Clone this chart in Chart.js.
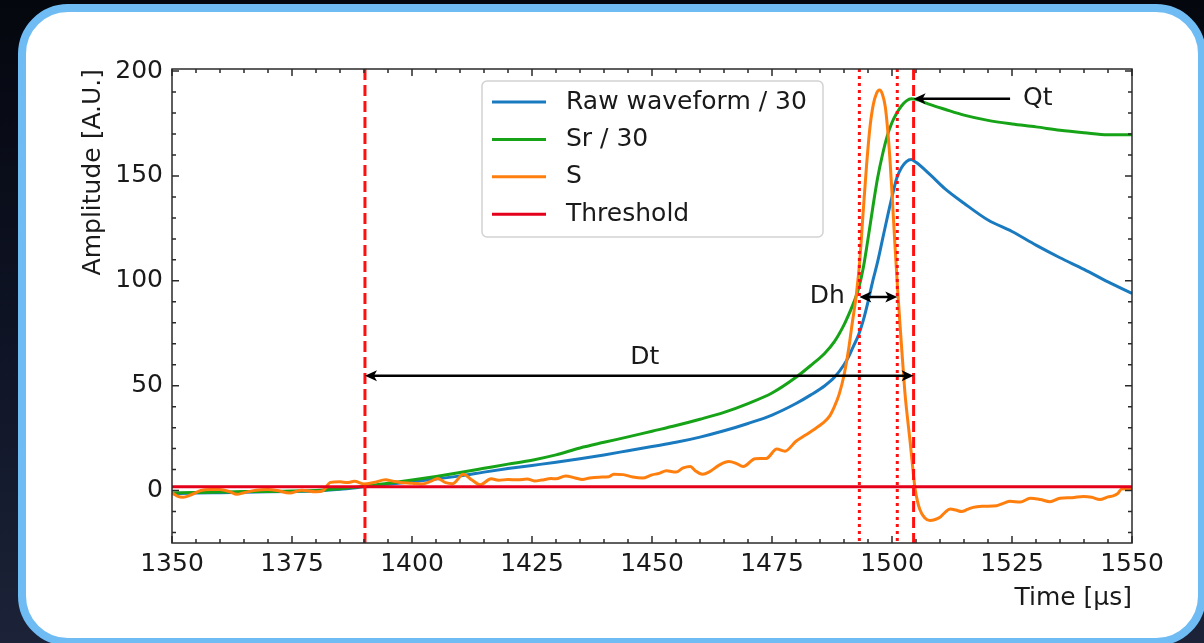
<!DOCTYPE html>
<html>
<head>
<meta charset="utf-8">
<script src="https://cdn.jsdelivr.net/npm/chart.js@4.4.1/dist/chart.umd.min.js"></script>
<style>
  html, body { margin:0; padding:0; width:1204px; height:643px; overflow:hidden;
    background: linear-gradient(to bottom, #05070e 0%, #0e1324 50%, #1c2338 100%); }
  #card { position:absolute; left:18px; top:4px; width:1188px; height:642px; box-sizing:border-box;
    border:8px solid #6fbcf5; border-radius:50px; background:#ffffff; }
  #c { position:absolute; left:0; top:0; }
</style>
</head>
<body>
<div id="card"></div>
<canvas id="c" width="1204" height="643"></canvas>
<script>
// ---------------- data ----------------
const rawTime = [1350,1355,1360,1365,1370,1375,1380,1385,1390,1395,1400,1405,1410,1415,1420,1425,1430,1435,1440,1445,1450,1455,1460,1465,1470,1475,1480,1483,1486,1488,1490,1491,1492,1493,1494,1495,1496,1497,1498,1499,1500,1501,1502,1503,1504,1505,1508,1511,1515,1520,1525,1530,1535,1540,1545,1550];
const rawValues = [-1.5,-1.2,-1,-0.8,-0.6,-0.4,-0.2,0.6,1.8,3,4.2,5.5,7,8.8,10.5,12,13.5,15.2,17,19,21,23,25.5,28.5,32,36,41.5,45.5,50,54,60,64,69,74,81,90,100,109,119.5,130,140,149,154,156.8,157.8,156.5,150.5,144,137,129,123.5,117,111,105.5,99.5,94];

const srTime = [1350,1355,1360,1365,1370,1375,1380,1385,1390,1395,1400,1405,1410,1415,1420,1425,1430,1435,1440,1445,1450,1455,1460,1465,1470,1475,1480,1483,1486,1488,1490,1491,1492,1493,1494,1495,1496,1497,1498,1499,1500,1501,1502,1503,1504,1505,1508,1511,1515,1520,1525,1530,1535,1540,1545,1550];
const srValues = [-1.2,-0.9,-0.7,-0.5,-0.4,-0.2,0,0.9,2,3.5,5,6.7,8.6,10.6,12.6,14.5,17,20.3,23,25.6,28.3,31,34,37.3,41.5,46.5,54,59.5,65.5,71,79,84,89.5,96,106,120,135,149,160,169,175.5,180,183.5,185.8,186.8,186.5,184,181.8,179,176.5,174.8,173.4,171.8,170.6,169.6,169.6];

const sTime = [1350,1351,1352.3,1354,1356,1358,1360,1362,1363.5,1365,1367.5,1370,1372,1374.5,1377,1380,1381.5,1383,1385,1386.5,1388,1390,1392,1394.5,1396,1397.5,1400,1402,1404,1405.3,1407,1408.5,1410.7,1412.5,1414.2,1416.5,1418,1420,1422,1424,1425.5,1427,1429,1430,1432,1434,1435.5,1437,1439,1441,1442,1444,1446,1448,1450,1451.5,1453,1455,1456.5,1458,1459,1460.5,1462,1464,1466,1467.5,1469,1471.5,1473.8,1476,1477.7,1480,1482,1484,1485.5,1487,1488,1489,1490,1491,1491.6,1492.6,1493.3,1494,1494.7,1495.4,1496.1,1496.8,1497.4,1498,1498.6,1499.1,1499.6,1500.1,1500.6,1501.2,1501.7,1502.2,1502.7,1503.3,1503.8,1504.4,1504.8,1505.3,1505.8,1506.8,1507.9,1509,1510,1511,1512.1,1513.3,1514.5,1515.7,1516.9,1519,1521.8,1523.3,1524.6,1526.7,1528.8,1530.9,1532.9,1535,1537.5,1539.9,1541.6,1543.3,1545,1546.1,1547,1547.8,1549,1550];
const sValues = [-1,-2.5,-3.2,-2,0,0.5,0.5,-0.5,-1.8,-1,0.2,0.5,0,-1.2,0.2,-0.6,0,3.9,4.2,3.8,4.4,3.1,3.8,5.1,4.5,3.9,3.5,3.1,4.5,5.8,3.8,3.3,7.8,5,2.8,5.6,4.9,5.3,5.1,5.5,4.6,5,5.7,5.6,7,6,5.3,6,6.4,6.6,7.8,7.6,6.5,6,7.5,8.2,9.4,8.8,10.8,11.5,9.5,7.8,9,12.1,13.8,13,11.5,15.2,15.3,19.8,18.8,23.5,26.5,29.5,32,35.5,40,46,55,68,78,94,110,133,155,173,184,189.5,191,189,183,172,157,138,117.6,95,78,62,46.5,33,22.8,9,1,-5,-9,-13,-14.3,-13.8,-12.7,-10.5,-8.8,-9.3,-10,-9,-8,-7.5,-7.2,-6,-5.1,-5.5,-3.7,-4.3,-5.3,-3.7,-3.4,-2.8,-3.2,-4.3,-3,-2.5,-1.5,0.7,0.9,0.3];

const thresholdTime = [1350, 1550];
const thresholdValues = [1.8, 1.8];

const seriesLabels = ['Raw waveform / 30', 'Sr / 30', 'S', 'Threshold'];
const seriesColors = ['#1a7ac0', '#17a317', '#ff7f0e', '#e4001b'];

const xTicks = [1350,1375,1400,1425,1450,1475,1500,1525,1550];
const yTicks = [0,50,100,150,200];

// annotation markers (data units)
const dashedTimes = [1390.2, 1504.5];
const dottedTimes = [1493.2, 1501.1];
const dtArrow = [1390.2, 1504.5, 54.7];   // x1, x2, y
const dhArrow = [1493.2, 1501.1, 92.3];
const qtArrow = [1524.6, 1504.5, 186.8];  // from, to, y
const labelTexts = ['Dt', 'Dh', 'Qt'];
const labelPos = [[1448.5, 63.3], [1490.2, 92.3], [1527.3, 186.8]];

// ---------------- chart ----------------
const FONT = '"DejaVu Sans", sans-serif';
const pts = (xs, ys) => xs.map((x, i) => ({x, y: ys[i]}));

function drawHead(ctx, tipX, tipY, dir) {
  const L = 12, W = 5.5;
  ctx.beginPath();
  ctx.moveTo(tipX, tipY);
  ctx.lineTo(tipX - dir * L, tipY - W);
  ctx.lineTo(tipX - dir * L * 0.75, tipY);
  ctx.lineTo(tipX - dir * L, tipY + W);
  ctx.closePath();
  ctx.fill();
}
function arrow(ctx, x1, x2, y, both) {
  ctx.beginPath();
  const d = x2 > x1 ? 1 : -1;
  ctx.moveTo(both ? x1 + d * 6 : x1, y);
  ctx.lineTo(x2 - d * 6, y);
  ctx.stroke();
  drawHead(ctx, x2, y, d);
  if (both) drawHead(ctx, x1, y, -d);
}

const annotPlugin = {
  id: 'annot',
  afterDatasetsDraw(chart) {
    const {ctx, chartArea: a, scales: {x, y}} = chart;
    ctx.save();
    ctx.beginPath(); ctx.rect(a.left, a.top, a.right - a.left, a.bottom - a.top); ctx.clip();
    ctx.strokeStyle = '#ff1010'; ctx.lineWidth = 3;
    ctx.setLineDash([11, 5]);
    dashedTimes.forEach(t => { const p = x.getPixelForValue(t); ctx.beginPath(); ctx.moveTo(p, a.top); ctx.lineTo(p, a.bottom); ctx.stroke(); });
    ctx.setLineDash([3, 4]);
    dottedTimes.forEach(t => { const p = x.getPixelForValue(t); ctx.beginPath(); ctx.moveTo(p, a.top); ctx.lineTo(p, a.bottom); ctx.stroke(); });
    ctx.setLineDash([]);
    ctx.strokeStyle = '#000'; ctx.fillStyle = '#000'; ctx.lineWidth = 2.5;
    arrow(ctx, x.getPixelForValue(dtArrow[0]), x.getPixelForValue(dtArrow[1]), y.getPixelForValue(dtArrow[2]), true);
    arrow(ctx, x.getPixelForValue(dhArrow[0]), x.getPixelForValue(dhArrow[1]), y.getPixelForValue(dhArrow[2]), true);
    arrow(ctx, x.getPixelForValue(qtArrow[0]), x.getPixelForValue(qtArrow[1]), y.getPixelForValue(qtArrow[2]), false);
    ctx.restore();
    ctx.save();
    ctx.font = '25px ' + FONT; ctx.fillStyle = '#1a1a1a'; ctx.textBaseline = 'middle';
    const aligns = ['center', 'right', 'left'];
    labelTexts.forEach((t, i) => {
      ctx.textAlign = aligns[i];
      ctx.fillText(t, x.getPixelForValue(labelPos[i][0]), y.getPixelForValue(labelPos[i][1]));
    });
    ctx.restore();
  },
  afterDraw(chart) {
    const {ctx, chartArea: a, scales: {x, y}} = chart;
    ctx.save();
    ctx.strokeStyle = '#2a2a2a'; ctx.lineWidth = 1.5;
    for (let v = 1350; v <= 1550; v += 5) {
      const p = x.getPixelForValue(v);
      const len = (v % 25 === 0) ? 7 : 4;
      ctx.beginPath(); ctx.moveTo(p, a.bottom); ctx.lineTo(p, a.bottom - len);
      ctx.moveTo(p, a.top); ctx.lineTo(p, a.top + len); ctx.stroke();
    }
    for (let v = -20; v <= 200; v += 10) {
      const p = y.getPixelForValue(v);
      const len = (v % 50 === 0) ? 7 : 4;
      ctx.beginPath(); ctx.moveTo(a.left, p); ctx.lineTo(a.left + len, p);
      ctx.moveTo(a.right, p); ctx.lineTo(a.right - len, p); ctx.stroke();
    }
    ctx.strokeRect(a.left, a.top, a.right - a.left, a.bottom - a.top);
    // legend
    const bx = 482, by = 81, bw = 341, bh = 156;
    ctx.beginPath(); ctx.roundRect(bx, by, bw, bh, 5);
    ctx.fillStyle = 'rgba(255,255,255,0.85)'; ctx.fill();
    ctx.strokeStyle = '#d2d2d2'; ctx.lineWidth = 1.5; ctx.stroke();
    ctx.font = '25px ' + FONT; ctx.textBaseline = 'middle'; ctx.textAlign = 'left';
    chart.data.datasets.forEach((ds, i) => {
      const ry = 102 + i * 37.4;
      ctx.strokeStyle = ds.borderColor; ctx.lineWidth = 3;
      ctx.beginPath(); ctx.moveTo(492, ry); ctx.lineTo(546, ry); ctx.stroke();
      ctx.fillStyle = '#1a1a1a';
      ctx.fillText(ds.label, 566, ry);
    });
    ctx.restore();
  }
};

const sets = [pts(rawTime, rawValues), pts(srTime, srValues), pts(sTime, sValues), pts(thresholdTime, thresholdValues)];
const orders = [4, 3, 2, 1];

new Chart(document.getElementById('c'), {
  type: 'line',
  data: {
    datasets: sets.map((d, i) => ({
      label: seriesLabels[i], data: d, borderColor: seriesColors[i], backgroundColor: seriesColors[i],
      borderWidth: 3, pointRadius: 0, cubicInterpolationMode: 'monotone', fill: false, order: orders[i]
    }))
  },
  options: {
    responsive: false, animation: false, devicePixelRatio: 1,
    layout: { padding: { left: 0, top: 69, right: 72, bottom: 28 } },
    plugins: { legend: { display: false }, tooltip: { enabled: false } },
    scales: {
      x: {
        type: 'linear', min: 1350, max: 1550,
        afterBuildTicks: s => { s.ticks = xTicks.map(v => ({value: v})); },
        afterFit: s => { s.height = 72; },
        grid: { display: false, drawTicks: false }, border: { display: false },
        ticks: { font: { family: FONT, size: 25 }, color: '#1a1a1a', padding: 6, maxRotation: 0, callback: v => String(v) },
        title: { display: true, text: 'Time [μs]', align: 'end', font: { family: FONT, size: 25 }, color: '#1a1a1a', padding: { top: 0, bottom: 2 } }
      },
      y: {
        type: 'linear', min: -25, max: 201,
        afterBuildTicks: s => { s.ticks = yTicks.map(v => ({value: v})); },
        afterFit: s => { s.width = 172; },
        grid: { display: false, drawTicks: false }, border: { display: false },
        ticks: { font: { family: FONT, size: 25 }, color: '#1a1a1a', padding: 9, callback: v => String(v) },
        title: { display: true, text: 'Amplitude [A.U.]', align: 'end', font: { family: FONT, size: 25 }, color: '#1a1a1a', padding: { top: 78, bottom: 0 } }
      }
    }
  },
  plugins: [annotPlugin]
});
</script>
</body>
</html>
